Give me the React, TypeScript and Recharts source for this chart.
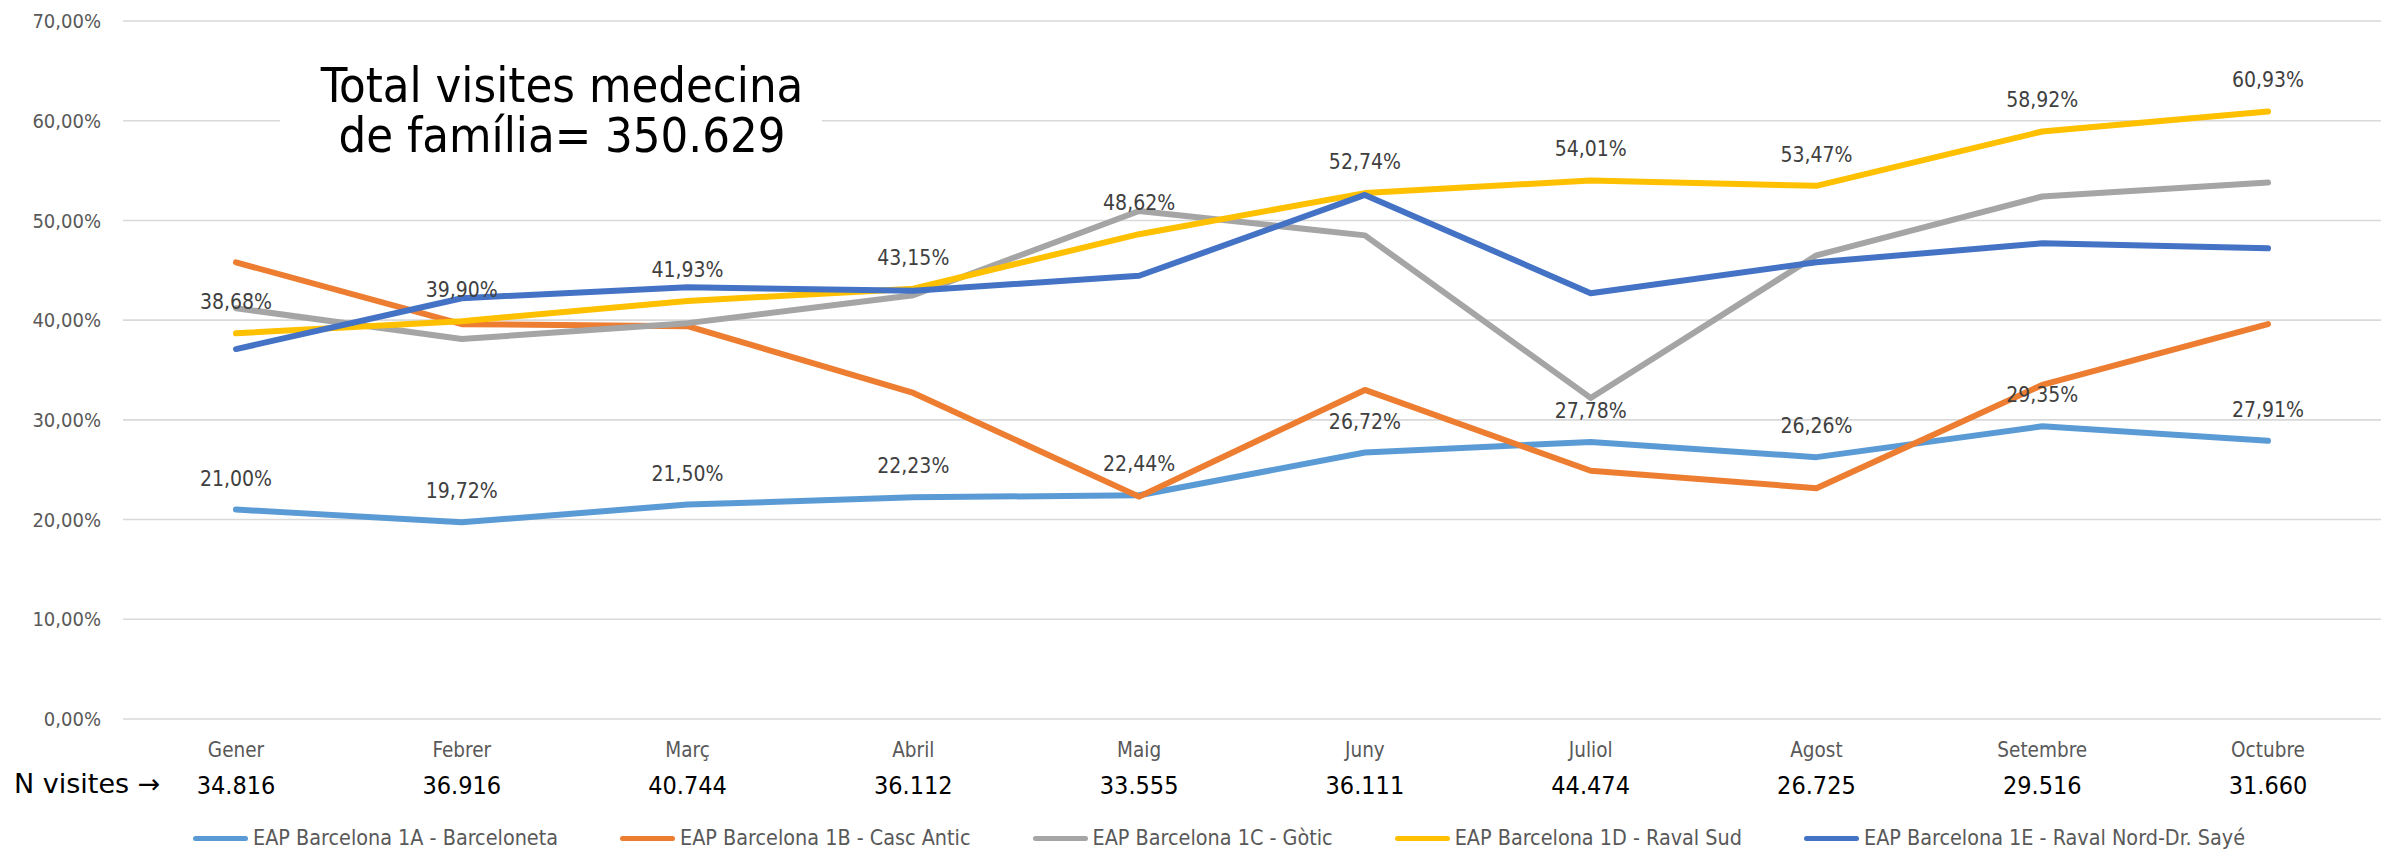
import React from "react";
import { LineChart, Line, XAxis, YAxis, CartesianGrid, LabelList } from "recharts";

const MONTHS: string[] = ["Gener", "Febrer", "Març", "Abril", "Maig", "Juny", "Juliol", "Agost", "Setembre", "Octubre"];
const N_VISITES: string[] = ["34.816", "36.916", "40.744", "36.112", "33.555", "36.111", "44.474", "26.725", "29.516", "31.660"];

const BARCELONETA: number[] = [21.0, 19.72, 21.5, 22.23, 22.44, 26.72, 27.78, 26.26, 29.35, 27.91];
const CASC_ANTIC: number[] = [45.8, 39.6, 39.4, 32.7, 22.3, 33.0, 24.9, 23.15, 33.5, 39.6];
const GOTIC: number[] = [41.2, 38.1, 39.7, 42.5, 50.95, 48.5, 32.2, 46.5, 52.4, 53.8];
const RAVAL_SUD: number[] = [38.68, 39.9, 41.93, 43.15, 48.62, 52.74, 54.01, 53.47, 58.92, 60.93];
const RAVAL_NORD: number[] = [37.1, 42.2, 43.3, 42.95, 44.45, 52.56, 42.7, 45.8, 47.7, 47.2];

const Y_TICKS: number[] = [0, 10, 20, 30, 40, 50, 60, 70];

const SERIES = [
  { key: "a", name: "EAP Barcelona 1A - Barceloneta", color: "#5B9BD5", values: BARCELONETA, labels: true },
  { key: "b", name: "EAP Barcelona 1B - Casc Antic", color: "#ED7D31", values: CASC_ANTIC, labels: false },
  { key: "c", name: "EAP Barcelona 1C - Gòtic", color: "#A5A5A5", values: GOTIC, labels: false },
  { key: "d", name: "EAP Barcelona 1D - Raval Sud", color: "#FFC000", values: RAVAL_SUD, labels: true },
  { key: "e", name: "EAP Barcelona 1E - Raval Nord-Dr. Sayé", color: "#4472C4", values: RAVAL_NORD, labels: false },
];

const FONT = "'DejaVu Sans Condensed', 'DejaVu Sans', sans-serif";

const pct = (v: number) => v.toFixed(2).replace(".", ",") + "%";

const data = MONTHS.map((m, i) => {
  const row: Record<string, string | number> = { month: m };
  SERIES.forEach((s) => (row[s.key] = s.values[i]));
  return row;
});

// etiqueta del mes + número de visites sota
const MonthTick = (props: any) => {
  const { x, y, payload } = props;
  return (
    <g>
      <text x={x} y={y + 31} textAnchor="middle" dominantBaseline="central" fill="#595959" fontSize={20.5} style={{ fontFamily: FONT, fontStretch: "condensed" }}>
        {payload.value}
      </text>
      <text x={x} y={y + 66} textAnchor="middle" dominantBaseline="central" fill="#000" fontSize={25} style={{ fontFamily: FONT, fontStretch: "condensed" }}>
        {N_VISITES[payload.index]}
      </text>
    </g>
  );
};

const PointLabel = (props: any) => {
  const { x, y, value } = props;
  return (
    <text x={x} y={y - 31} textAnchor="middle" dominantBaseline="central" fill="#404040" fontSize={21} style={{ fontFamily: FONT, fontStretch: "condensed" }}>
      {pct(Number(value))}
    </text>
  );
};

const App: React.FC = () => {
  return (
    <div style={{ position: "relative", width: 2387, height: 850, background: "#fff", fontFamily: FONT, fontStretch: "condensed" }}>
      <style>{`body{margin:0;}`}</style>
      <LineChart width={2387} height={850} data={data} margin={{ top: 21, right: 6, left: 0, bottom: 0 }}>
        <CartesianGrid vertical={false} stroke="#D9D9D9" strokeWidth={1.6} />
        <XAxis
          dataKey="month"
          axisLine={false}
          tickLine={false}
          tickSize={0}
          tickMargin={0}
          height={131}
          interval={0}
          padding={{ left: 113, right: 113 }}
          tick={<MonthTick />}
        />
        <YAxis
          domain={[0, 70]}
          ticks={Y_TICKS}
          axisLine={false}
          tickLine={false}
          tickSize={0}
          tickMargin={22}
          width={123}
          tickFormatter={(v: number) => pct(v)}
          tick={{ fill: "#595959", fontSize: 20, fontFamily: FONT }}
        />
        {SERIES.map((s) => (
          <Line
            key={s.key}
            type="linear"
            dataKey={s.key}
            name={s.name}
            stroke={s.color}
            strokeWidth={6}
            strokeLinejoin="round"
            strokeLinecap="round"
            dot={false}
            activeDot={false}
            isAnimationActive={false}
          >
            {s.labels && <LabelList dataKey={s.key} content={<PointLabel />} />}
          </Line>
        ))}
      </LineChart>

      {/* caixa del títol */}
      <div
        style={{
          position: "absolute",
          left: 280,
          top: 40,
          width: 542,
          height: 140,
          paddingTop: 20,
          paddingLeft: 22,
          boxSizing: "border-box",
          background: "#fff",
          textAlign: "center",
          fontSize: 48.5,
          lineHeight: "50px",
          color: "#000",
          whiteSpace: "nowrap",
        }}
      >
        Total visites medecina
        <br />
        de família= 350.629
      </div>

      <div style={{ position: "absolute", left: 14, top: 766, fontSize: 27, lineHeight: "36px", color: "#000", fontStretch: "normal", fontFamily: "'DejaVu Sans', sans-serif" }}>
        N visites →
      </div>

      {/* llegenda */}
      <div style={{ position: "absolute", left: 193, top: 824, display: "flex", alignItems: "center", gap: 62 }}>
        {SERIES.map((s) => (
          <div key={s.key} style={{ display: "flex", alignItems: "center", gap: 5 }}>
            <span style={{ display: "inline-block", width: 55, height: 5, borderRadius: 3, background: s.color }} />
            <span style={{ fontSize: 21.4, lineHeight: "28px", color: "#595959" }}>{s.name}</span>
          </div>
        ))}
      </div>
    </div>
  );
};

export default App;
